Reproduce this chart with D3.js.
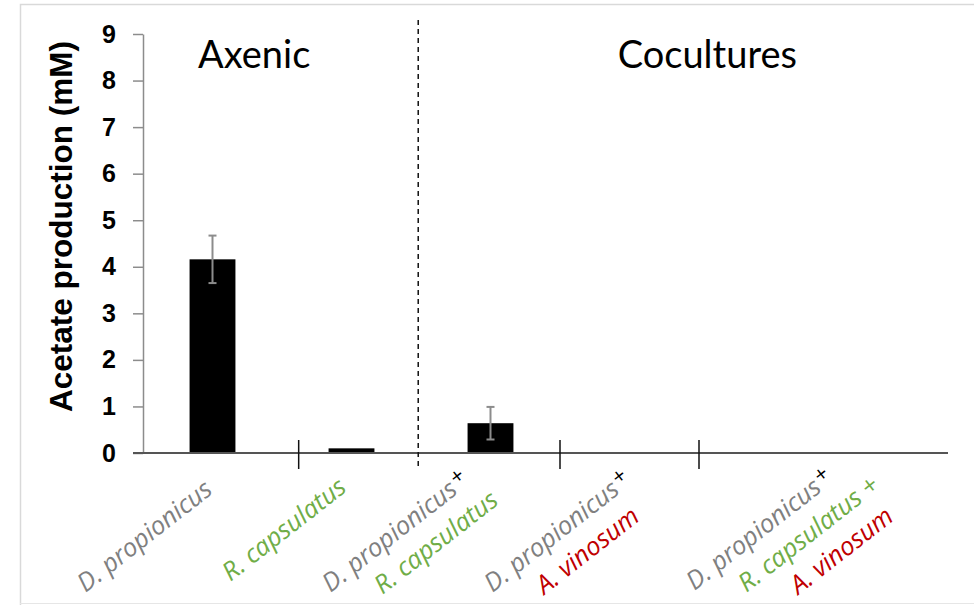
<!DOCTYPE html>
<html>
<head>
<meta charset="utf-8">
<script src="https://cdn.jsdelivr.net/npm/d3@7"></script>
<style>
  html, body { margin: 0; padding: 0; background: #fff; }
  svg { display: block; }
</style>
</head>
<body>
<svg id="chart" width="974" height="605"></svg>
<script>
// Acetate production per culture (mM), mean and standard deviation
const categories = ["Dp", "Rc", "Dp+Rc", "Dp+Av", "Dp+Rc+Av"];
const acetate = [4.16, 0.1, 0.64, 0, 0];
const acetateSd = [0.51, 0, 0.35, 0, 0];
const yTickValues = [0, 1, 2, 3, 4, 5, 6, 7, 8, 9];
const groupTitles = ["Axenic", "Cocultures"];

// Species names printed under each bar, one array of lines per bar
const speciesLines = [
  [[["D. propionicus", "dp"]]],
  [[["R. capsulatus", "rc"]]],
  [[["D. propionicus", "dp"], ["+", "plus"]], [["R. capsulatus", "rc"]]],
  [[["D. propionicus", "dp"], ["+", "plus"]], [["A. vinosum", "av"]]],
  [[["D. propionicus", "dp"], ["+", "plus"]], [["R. capsulatus +", "rc"]], [["A. vinosum", "av"]]]
];

const colours = { dp: "#808080", rc: "#70ad47", av: "#c00000", plus: "#000" };

const svg = d3.select("#chart");
const x0 = 143, axisEnd = 948, yTop = 34, yBottom = 453, step = 139;

// Light frame around the figure
svg.append("path")
  .attr("d", "M20.5,605 V4.5 H974")
  .attr("fill", "none").attr("stroke", "#d9d9d9").attr("stroke-width", 1.5);
svg.append("line").attr("x1", 20).attr("x2", 974).attr("y1", 603.5).attr("y2", 603.5)
  .attr("stroke", "#e6e6e6").attr("stroke-width", 1);

const x = d3.scaleBand()
  .domain(categories)
  .range([x0, x0 + step * categories.length])
  .paddingInner(0.67)
  .paddingOuter(0.335);

const y = d3.scaleLinear().domain([0, 9]).range([yBottom, yTop]);

// position along the category axis, in units of one category
const xAt = k => x0 + k * x.step();

// Y axis
const yAxis = svg.append("g")
  .attr("transform", `translate(${x0},0)`)
  .call(d3.axisLeft(y).tickValues(yTickValues).tickSize(10).tickSizeOuter(0).tickPadding(17).tickFormat(d3.format("d")));
yAxis.select(".domain").attr("stroke", "#8c8c8c").attr("stroke-width", 1.5);
yAxis.selectAll(".tick line").attr("stroke", "#8c8c8c").attr("stroke-width", 1.5);
yAxis.selectAll(".tick text")
  .attr("fill", "#000")
  .style("font-family", "'Liberation Sans', Arial, sans-serif")
  .style("font-weight", "bold")
  .style("font-size", "25px");

// Y axis title
svg.append("text")
  .attr("transform", `translate(72,${(yTop + yBottom) / 2 - 17}) rotate(-90)`)
  .attr("text-anchor", "middle")
  .style("font-family", "'Liberation Sans', Arial, sans-serif")
  .style("font-weight", "bold")
  .style("font-size", "31.5px")
  .text("Acetate production (mM)");

// Bars
svg.append("g").selectAll("rect")
  .data(categories)
  .join("rect")
  .attr("x", d => x(d))
  .attr("width", x.bandwidth())
  .attr("y", (d, i) => y(acetate[i]))
  .attr("height", (d, i) => y(0) - y(acetate[i]))
  .attr("fill", "#000");

// Error bars
const err = svg.append("g").attr("stroke", "#8c8c8c").attr("stroke-width", 2);
categories.forEach((c, i) => {
  if (!acetateSd[i]) return;
  const cx = x(c) + x.bandwidth() / 2;
  const hi = y(acetate[i] + acetateSd[i]), lo = y(acetate[i] - acetateSd[i]);
  err.append("line").attr("x1", cx).attr("x2", cx).attr("y1", hi).attr("y2", lo);
  err.append("line").attr("x1", cx - 4).attr("x2", cx + 4).attr("y1", hi).attr("y2", hi);
  err.append("line").attr("x1", cx - 4).attr("x2", cx + 4).attr("y1", lo).attr("y2", lo);
});

// X axis baseline
svg.append("line")
  .attr("x1", x0 - 10).attr("x2", axisEnd)
  .attr("y1", y(0)).attr("y2", y(0))
  .attr("stroke", "#555").attr("stroke-width", 2);

// Separators between culture conditions
[1.12, 3, 4].forEach(k => {
  svg.append("line")
    .attr("x1", xAt(k)).attr("x2", xAt(k))
    .attr("y1", y(0) - 13).attr("y2", y(0) + 16)
    .attr("stroke", "#111").attr("stroke-width", 1.5);
});
// Dashed divider between axenic cultures and cocultures
svg.append("line")
  .attr("x1", xAt(1.98)).attr("x2", xAt(1.98))
  .attr("y1", 20).attr("y2", y(0) + 16)
  .attr("stroke", "#111").attr("stroke-width", 1.5)
  .attr("stroke-dasharray", "5,4");

// Group titles
const titleAt = [0.8, 4.06];
groupTitles.forEach((t, i) => {
  svg.append("text")
    .attr("x", xAt(titleAt[i])).attr("y", 68)
    .attr("text-anchor", "middle")
    .style("font-family", "Lato, 'Liberation Sans', sans-serif")
    .style("font-size", "38px")
    .attr("fill", "#000")
    .text(t);
});

// Rotated species labels, start of first line relative to the bar centre
const labelShift = [[-127, 593], [-121, 582], [-160, 593], [-137, 593], [-74, 591]];
const lineStep = [52, 2];
const labels = svg.append("g")
  .style("font-family", "'Open Sans', 'Noto Sans', sans-serif")
  .style("font-style", "italic")
  .style("font-size", "25.5px");
categories.forEach((c, i) => {
  const cx = x(c) + x.bandwidth() / 2;
  speciesLines[i].forEach((line, j) => {
    const tx = cx + labelShift[i][0] + j * lineStep[0];
    const ty = labelShift[i][1] + j * lineStep[1];
    const t = labels.append("text")
      .attr("transform", `translate(${tx},${ty}) rotate(-38)`);
    line.forEach(([str, key]) => {
      const ts = t.append("tspan").attr("fill", colours[key]).text(str);
      if (key === "plus") {
        ts.attr("dy", "-0.3em").attr("dx", "0.1em")
          .style("font-style", "normal").style("font-size", "22px");
      }
    });
  });
});
</script>
</body>
</html>
